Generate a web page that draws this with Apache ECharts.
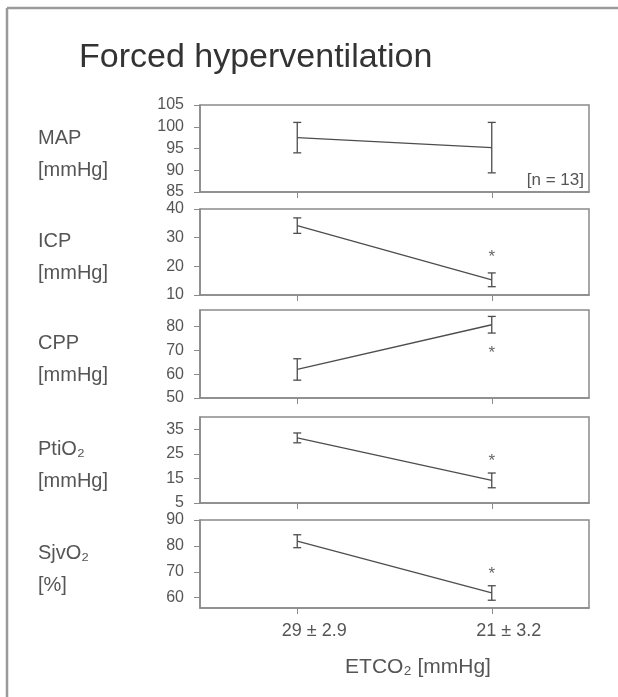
<!DOCTYPE html>
<html>
<head>
<meta charset="utf-8">
<title>Forced hyperventilation</title>
<script src="https://cdn.jsdelivr.net/npm/echarts@6.0.0/dist/echarts.min.js"></script>
<style>
html, body { margin: 0; padding: 0; background: #fff; }
#main { width: 618px; height: 697px; }
</style>
</head>
<body>
<div id="main"></div>
<script>
// ETCO2 levels (x categories)
const categories = ["29 ± 2.9", "21 ± 3.2"];

// mean / SD per parameter
const mapMean = [97.5, 95.2];
const mapSd = [3.5, 5.8];
const icpMean = [34.2, 15.3];
const icpSd = [2.7, 2.4];
const cppMean = [62.0, 80.8];
const cppSd = [4.5, 3.5];
const ptio2Mean = [31.5, 14.2];
const ptio2Sd = [2.0, 3.0];
const sjvo2Mean = [81.8, 61.8];
const sjvo2Sd = [2.5, 2.8];

// asterisk (p < 0.05) positions at the second level
const mapStar = [];
const icpStar = [[1, 24.5]];
const cppStar = [[1, 70.5]];
const ptio2Star = [[1, 23.5]];
const sjvo2Star = [[1, 70.5]];

// y tick labels
const mapTicks = [85, 90, 95, 100, 105];
const icpTicks = [10, 20, 30, 40];
const cppTicks = [50, 60, 70, 80];
const ptio2Ticks = [5, 15, 25, 35];
const sjvo2Ticks = [60, 70, 80, 90];

const lineColor = "#4d4d4d";
const axisColor = "#8a8a8a";
const textColor = "#555";
const font = "Liberation Sans, Arial, sans-serif";

const panels = [
	{ name: "MAP", unit: "[mmHg]", mean: mapMean, sd: mapSd, star: mapStar, ticks: mapTicks, min: 85, max: 105, top: 105, height: 87 },
	{ name: "ICP", unit: "[mmHg]", mean: icpMean, sd: icpSd, star: icpStar, ticks: icpTicks, min: 10, max: 40, top: 209, height: 86 },
	{ name: "CPP", unit: "[mmHg]", mean: cppMean, sd: cppSd, star: cppStar, ticks: cppTicks, min: 50, max: 87, top: 310, height: 88 },
	{ name: "PtiO₂", unit: "[mmHg]", mean: ptio2Mean, sd: ptio2Sd, star: ptio2Star, ticks: ptio2Ticks, min: 5, max: 40, top: 417, height: 86 },
	{ name: "SjvO₂", unit: "[%]", mean: sjvo2Mean, sd: sjvo2Sd, star: sjvo2Star, ticks: sjvo2Ticks, min: 56, max: 90, top: 520, height: 88 }
];

const errorBar = (params, api) => {
	const x = api.value(0);
	const lo = api.coord([x, api.value(1)]);
	const hi = api.coord([x, api.value(2)]);
	const w = 4;
	const style = { stroke: lineColor, lineWidth: 1.3 };
	return {
		type: "group",
		children: [
			{ type: "line", shape: { x1: hi[0], y1: hi[1], x2: lo[0], y2: lo[1] }, style },
			{ type: "line", shape: { x1: hi[0] - w, y1: hi[1], x2: hi[0] + w, y2: hi[1] }, style },
			{ type: "line", shape: { x1: lo[0] - w, y1: lo[1], x2: lo[0] + w, y2: lo[1] }, style }
		]
	};
};

const asterisk = (params, api) => {
	const p = api.coord([api.value(0), api.value(1)]);
	return {
		type: "text",
		style: { text: "*", x: p[0], y: p[1] + 4, align: "center", verticalAlign: "middle", fontSize: 17, fontFamily: font, fill: "#666" }
	};
};

const grid = [];
const xAxis = [];
const yAxis = [];
const series = [];
const graphic = [
	// frame
	{ type: "line", shape: { x1: 7, y1: 8, x2: 618, y2: 8 }, style: { stroke: "#9a9a9a", lineWidth: 2.5 } },
	{ type: "line", shape: { x1: 7, y1: 8, x2: 7, y2: 697 }, style: { stroke: "#9a9a9a", lineWidth: 2.5 } },
	{ type: "text", x: 79, y: 58, style: { text: "Forced hyperventilation", fontSize: 34, fontFamily: font, fill: "#333", verticalAlign: "middle" } },
	{ type: "text", x: 584, y: 180, style: { text: "[n = 13]", fontSize: 17, fontFamily: font, fill: textColor, align: "right", verticalAlign: "middle" } },
	{ type: "text", x: 418, y: 667, style: { text: "ETCO₂ [mmHg]", fontSize: 21, fontFamily: font, fill: textColor, align: "center", verticalAlign: "middle" } }
];

panels.forEach((p, i) => {
	const last = i === panels.length - 1;
	grid.push({ left: 200, right: 29, top: p.top, height: p.height, show: true, borderColor: axisColor, borderWidth: 1.5, outerBoundsMode: "none" });
	xAxis.push({
		type: "category",
		gridIndex: i,
		data: categories,
		boundaryGap: true,
		axisLine: { show: true, lineStyle: { color: axisColor, width: 1.5 } },
		axisTick: { show: true, alignWithLabel: true, length: 6, lineStyle: { color: axisColor } },
		axisLabel: { show: last, margin: 14, padding: [0, 0, 0, 34], fontSize: 18, fontFamily: font, color: textColor },
		splitLine: { show: false }
	});
	yAxis.push({
		type: "value",
		gridIndex: i,
		min: p.min,
		max: p.max,
		axisLine: { show: true, lineStyle: { color: axisColor, width: 1.5 } },
		axisTick: { show: true, length: 6, customValues: p.ticks, lineStyle: { color: axisColor } },
		axisLabel: { customValues: p.ticks, margin: 16, fontSize: 16, fontFamily: font, color: textColor },
		splitLine: { show: false }
	});
	series.push({
		type: "line",
		xAxisIndex: i,
		yAxisIndex: i,
		data: p.mean,
		symbol: "none",
		lineStyle: { color: lineColor, width: 1.3 },
		silent: true
	});
	series.push({
		type: "custom",
		xAxisIndex: i,
		yAxisIndex: i,
		renderItem: errorBar,
		encode: { x: 0, y: [1, 2] },
		data: p.mean.map((m, k) => [k, m - p.sd[k], m + p.sd[k]]),
		silent: true
	});
	series.push({
		type: "custom",
		xAxisIndex: i,
		yAxisIndex: i,
		renderItem: asterisk,
		encode: { x: 0, y: 1 },
		data: p.star,
		silent: true
	});
	const mid = p.top + p.height * 0.38;
	graphic.push({ type: "text", x: 38, y: mid, style: { text: p.name, fontSize: 20, fontFamily: font, fill: textColor, verticalAlign: "middle" } });
	graphic.push({ type: "text", x: 38, y: mid + 32, style: { text: p.unit, fontSize: 20, fontFamily: font, fill: textColor, verticalAlign: "middle" } });
});

const myChart = echarts.init(document.getElementById("main"));
myChart.setOption({
	animation: false,
	backgroundColor: "#fff",
	grid,
	xAxis,
	yAxis,
	series,
	graphic
});
</script>
</body>
</html>
